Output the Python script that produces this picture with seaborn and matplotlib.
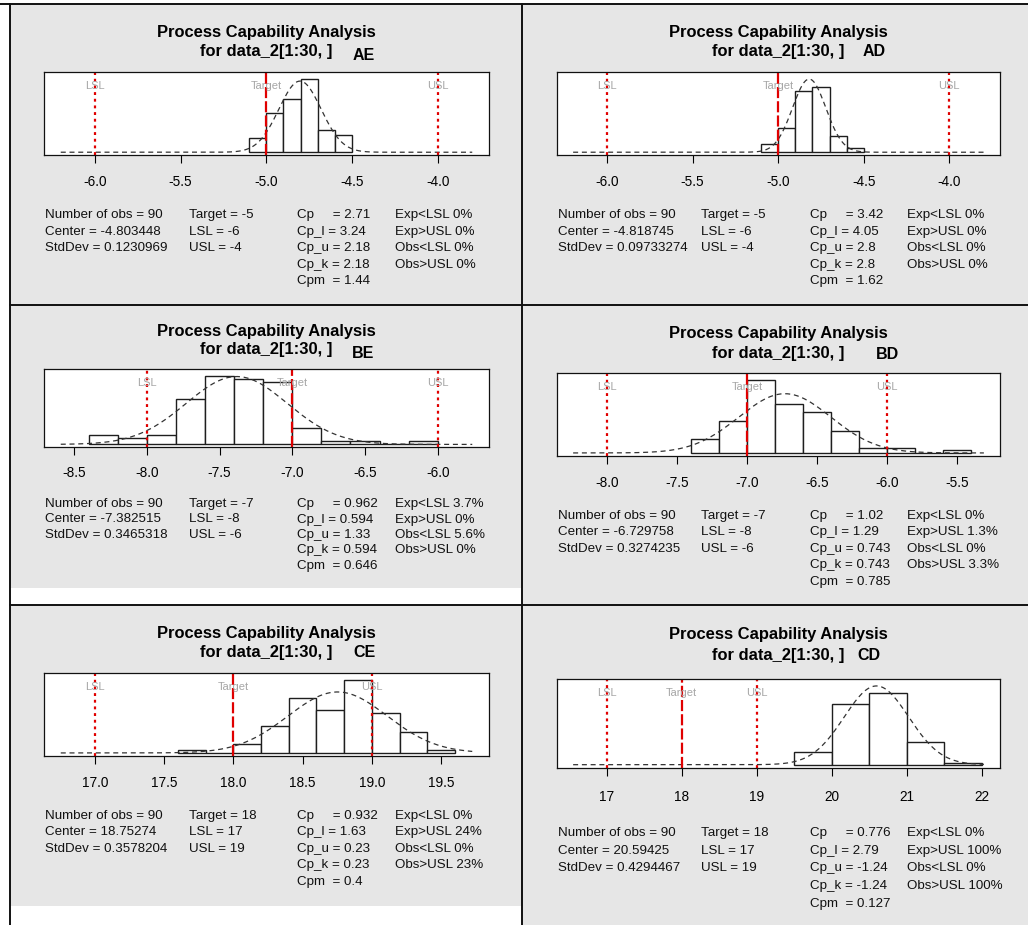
import numpy as np
import pandas as pd
import matplotlib
matplotlib.use("Agg")
import matplotlib.pyplot as plt
import seaborn as sns
from matplotlib.patches import Rectangle
from matplotlib.lines import Line2D

# ---- values ----
panels = ["AE", "AD", "BE", "BD", "CE", "CD"]
n_obs = [90, 90, 90, 90, 90, 90]
lsl = [-6, -6, -8, -8, 17, 17]
target = [-5, -5, -7, -7, 18, 18]
usl = [-4, -4, -6, -6, 19, 19]
center = [-4.803448, -4.818745, -7.382515, -6.729758, 18.75274, 20.59425]
stddev = [0.1230969, 0.09733274, 0.3465318, 0.3274235, 0.3578204, 0.4294467]
cp = [2.71, 3.42, 0.962, 1.02, 0.932, 0.776]
cp_l = [3.24, 4.05, 0.594, 1.29, 1.63, 2.79]
cp_u = [2.18, 2.8, 1.33, 0.743, 0.23, -1.24]
cp_k = [2.18, 2.8, 0.594, 0.743, 0.23, -1.24]
cpm = [1.44, 1.62, 0.646, 0.785, 0.4, 0.127]
exp_lsl = [0, 0, 3.7, 0, 0, 0]
exp_usl = [0, 0, 0, 1.3, 24, 100]
obs_lsl = [0, 0, 5.6, 0, 0, 0]
obs_usl = [0, 0, 0, 3.3, 23, 100]

bin_edges = [
    [-5.1, -5.0, -4.9, -4.8, -4.7, -4.6, -4.5],
    [-5.1, -5.0, -4.9, -4.8, -4.7, -4.6, -4.5],
    [-8.4, -8.2, -8.0, -7.8, -7.6, -7.4, -7.2, -7.0, -6.8, -6.6, -6.4, -6.2, -6.0],
    [-7.4, -7.2, -7.0, -6.8, -6.6, -6.4, -6.2, -6.0, -5.8, -5.6, -5.4],
    [17.6, 17.8, 18.0, 18.2, 18.4, 18.6, 18.8, 19.0, 19.2, 19.4, 19.6],
    [19.5, 20.0, 20.5, 21.0, 21.5, 22.0],
]
bin_counts = [
    [6, 16, 22, 30, 9, 7],
    [4, 12, 31, 33, 8, 2],
    [3, 2, 3, 14, 21, 20, 19, 5, 1, 1, 0, 1],
    [5, 12, 27, 18, 15, 8, 2, 2, 0, 1],
    [1, 0, 3, 9, 18, 14, 24, 13, 7, 1],
    [7, 32, 38, 12, 1],
]
tick_labels = [
    ["-6.0", "-5.5", "-5.0", "-4.5", "-4.0"],
    ["-6.0", "-5.5", "-5.0", "-4.5", "-4.0"],
    ["-8.5", "-8.0", "-7.5", "-7.0", "-6.5", "-6.0"],
    ["-8.0", "-7.5", "-7.0", "-6.5", "-6.0", "-5.5"],
    ["17.0", "17.5", "18.0", "18.5", "19.0", "19.5"],
    ["17", "18", "19", "20", "21", "22"],
]

# ---- layout (pixels in a 1028x925 canvas) ----
W, H = 1028, 925
boxes = [  # left, top, right, bottom of each histogram frame
    (44.3, 72.3, 488.7, 155.3),
    (556.7, 72.3, 1000.3, 155.3),
    (44.3, 369.3, 488.7, 447.3),
    (556.7, 373.3, 1000.3, 456.0),
    (44.3, 673.3, 488.7, 756.0),
    (556.7, 678.7, 1000.3, 768.0),
]
xlims = [(-6.296, -3.702), (-6.294, -3.702), (-8.706, -5.649),
         (-8.356, -5.194), (16.634, 19.844), (16.334, 22.244)]
title_y = [(31, 50), (31, 50), (330, 348.3), (331.7, 351.7), (631.7, 650.7), (633.3, 654)]
tag_pos = [(97.5, 54), (95.5, 50), (96.8, 352.3), (109.2, 353.3), (97.5, 650.7), (90.8, 654)]
tick_pad_px = [11.9, 11.9, 10.6, 12.2, 12.2, 14.2]
stats_y = [(213.3, 16.5), (213.3, 16.5), (502.3, 15.4), (514.3, 16.4), (814.3, 16.4), (831, 17.8)]
col_dx = [1, 144.5, 253, 350.4]

gray = "#e6e6e6"
red = "#e00000"
PT = 72 / 100  # points per pixel

sns.set_style("white")
plt.rcParams["font.family"] = ["Liberation Sans", "DejaVu Sans"]
plt.rcParams["text.color"] = "black"

fig = plt.figure(figsize=(W / 100, H / 100), dpi=100)


def fx(x):
    return x / W


def fy(y):
    return 1 - y / H


# panel backgrounds
for (x0, y0, x1, y1) in [(10, 4, 522, 305), (10, 305, 522, 587.5),
                         (10, 605, 522, 905.5), (522, 4, W, H)]:
    fig.add_artist(Rectangle((fx(x0), fy(y1)), (x1 - x0) / W, (y1 - y0) / H,
                             transform=fig.transFigure, facecolor=gray,
                             edgecolor="none", zorder=-5))

# table borders
for (xa, ya, xb, yb) in [(0, 4, W, 4), (10, 4, 10, H), (522, 4, 522, H),
                         (10, 305, W, 305), (10, 605, W, 605)]:
    fig.add_artist(Line2D([fx(xa), fx(xb)], [fy(ya), fy(yb)], color="#111111",
                          lw=1.4, transform=fig.transFigure, zorder=5))

for i, name in enumerate(panels):
    left, top, right, bottom = boxes[i]
    ax = fig.add_axes([fx(left), fy(bottom), (right - left) / W, (bottom - top) / H])
    ax.set_facecolor("white")

    edges = bin_edges[i]
    counts = np.array(bin_counts[i])
    mids = [(a + b) / 2 for a, b in zip(edges[:-1], edges[1:])]
    hist_df = pd.DataFrame({"value": mids, "n": counts})
    sns.histplot(data=hist_df, x="value", weights="n", bins=edges, stat="density",
                 ax=ax, color="white", edgecolor="#1e1e1e", linewidth=1.0, alpha=1)

    x0, x1 = xlims[i]
    inner = (x1 - x0) * 0.04 / 1.08
    xx = np.linspace(x0 + inner, x1 - inner, 250)
    sd = stddev[i]
    dens = np.exp(-0.5 * ((xx - center[i]) / sd) ** 2) / (sd * np.sqrt(2 * np.pi))
    sns.lineplot(x=xx, y=dens, ax=ax, color="#333333", lw=0.9)
    ax.lines[-1].set_dashes((4, 3))

    bar_dens = counts / (counts.sum() * np.diff(edges))
    top_val = 1.05 * max(bar_dens.max(), 1 / (sd * np.sqrt(2 * np.pi)))
    ax.set_ylim(-0.04 * top_val, 1.04 * top_val)
    ax.set_xlim(x0, x1)

    for val, lab, dash in [(lsl[i], "LSL", (1.3, 1.7)), (target[i], "Target", (5, 1.4)),
                           (usl[i], "USL", (1.3, 1.7))]:
        ln = ax.axvline(val, color=red, lw=1.6)
        ln.set_dashes(dash)
        ax.annotate(lab, xy=(val, 1), xycoords=("data", "axes fraction"),
                    xytext=(0, -13.8 * PT), textcoords="offset points",
                    ha="center", va="center", fontsize=8, color="#a6a6a6")

    ax.set_xticks([float(t) for t in tick_labels[i]])
    ax.set_xticklabels(tick_labels[i])
    ax.set_yticks([])
    ax.set_xlabel("")
    ax.set_ylabel("")
    ax.tick_params(axis="x", bottom=True, direction="out", length=8 * PT,
                   width=0.8, pad=tick_pad_px[i] * PT, labelsize=9.8, colors="black")
    for sp in ax.spines.values():
        sp.set_visible(True)
        sp.set_color("#111111")
        sp.set_linewidth(0.9)

    # titles
    cx = (left + right) / 2
    y1, y2 = title_y[i]
    fig.text(fx(cx), fy(y1 + 5.9), "Process Capability Analysis", ha="center",
             va="baseline", fontsize=11.9, fontweight="bold")
    fig.text(fx(cx), fy(y2 + 5.9), "for data_2[1:30, ]", ha="center",
             va="baseline", fontsize=11.9, fontweight="bold")
    tdx, tyy = tag_pos[i]
    fig.text(fx(cx + tdx), fy(tyy + 5.9), name, ha="center", va="baseline",
             fontsize=11.5, fontweight="bold")

    # statistics block
    cols = [
        [f"Number of obs = {n_obs[i]}", f"Center = {center[i]}", f"StdDev = {stddev[i]}"],
        [f"Target = {target[i]}", f"LSL = {lsl[i]}", f"USL = {usl[i]}"],
        [f"Cp     = {cp[i]}", f"Cp_l = {cp_l[i]}", f"Cp_u = {cp_u[i]}",
         f"Cp_k = {cp_k[i]}", f"Cpm  = {cpm[i]}"],
        [f"Exp<LSL {exp_lsl[i]}%", f"Exp>USL {exp_usl[i]}%",
         f"Obs<LSL {obs_lsl[i]}%", f"Obs>USL {obs_usl[i]}%"],
    ]
    sy0, sdy = stats_y[i]
    for dx, lines in zip(col_dx, cols):
        for k, s in enumerate(lines):
            fig.text(fx(left + dx), fy(sy0 + k * sdy + 4.8), s, ha="left",
                     va="baseline", fontsize=9.6, color="#111111")

fig.savefig("out.png", dpi=100)
